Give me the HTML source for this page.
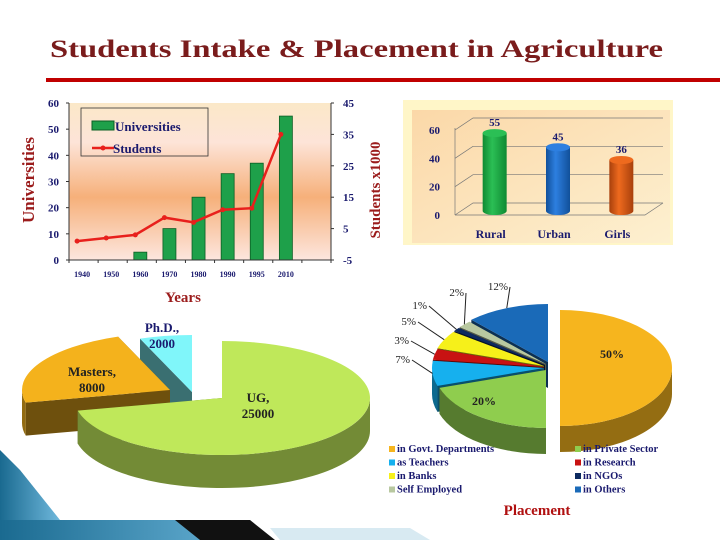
<!DOCTYPE html>
<html><head><meta charset="utf-8">
<style>
html,body{margin:0;padding:0;background:#fff;}
svg{display:block;font-family:"Liberation Serif",serif;}
</style></head>
<body>
<svg id="s" width="720" height="540" viewBox="0 0 720 540">
<defs>
<linearGradient id="bg1" x1="0" y1="0" x2="0" y2="1">
<stop offset="0" stop-color="#fbe8c8"/><stop offset="0.25" stop-color="#fde4d8"/><stop offset="0.6" stop-color="#f6b07a"/><stop offset="1" stop-color="#fde6de"/></linearGradient>
<linearGradient id="bg2" x1="0" y1="0" x2="1" y2="1">
<stop offset="0" stop-color="#fbd8a8"/><stop offset="1" stop-color="#fdf0d0"/></linearGradient>
<linearGradient id="deco" x1="0" y1="0" x2="1" y2="0">
<stop offset="0" stop-color="#1a6a90"/><stop offset="1" stop-color="#6fb8dc"/></linearGradient>
</defs>

<!-- decorations -->
<polygon points="0,450 20,470 60,520 60,540 0,540" fill="url(#deco)"/>
<polygon points="0,520 250,520 270,540 0,540" fill="url(#deco)"/>
<polygon points="175,520 250,520 275,540 200,540" fill="#111"/>
<polygon points="270,528 410,528 430,540 280,540" fill="#d8eaf2"/>

<text x="50" y="57" font-size="25" font-weight="bold" fill="#7a1c1c" textLength="613" lengthAdjust="spacingAndGlyphs">Students Intake &amp; Placement in Agriculture</text>
<rect x="46" y="78" width="674" height="4" fill="#c00000"/>

<g id="c1"></g>
<g id="c2"></g>
<g id="c3"></g>
<g id="c4"></g>
</svg>
<script>
const years = ["1940","1950","1960","1970","1980","1990","1995","2010"];
const universities = [0,0,3,12,24,33,37,55];
const students = [1,2,3,8.5,7,11,11.5,35];
const leftTicks = [0,10,20,30,40,50,60];
const rightTicks = [-5,5,15,25,35,45];

const groups = ["Rural","Urban","Girls"];
const groupValues = [55,45,36];
const groupTicks = [0,20,40,60];

const intakeLabels = ["UG","Masters","Ph.D."];
const intakeValues = [25000,8000,2000];

const placeLabels = ["in Govt. Departments","in Private Sector","as Teachers","in Research","in Banks","in NGOs","Self Employed","in Others"];
const placeValues = [50,20,7,3,5,1,2,12];

const NS="http://www.w3.org/2000/svg";
function mk(tag,attrs,parent,txt){const e=document.createElementNS(NS,tag);for(const k in attrs)e.setAttribute(k,attrs[k]);if(txt!==undefined)e.textContent=txt;parent.appendChild(e);return e;}

// ---------- Chart 1 ----------
(function(){
const g=document.getElementById('c1');
const L=69,R=331,T=103,B=260;
const yL=v=>B-v/60*(B-T);
const yR=v=>B-(v+5)/50*(B-T);
const step=(R-L)/9;
const xC=i=>L+step*(i+0.45);
let e=mk('rect',{x:L,y:T,width:R-L,height:B-T,fill:'url(#bg1)'},g);


universities.forEach((v,i)=>{
 const b=mk('rect',{x:xC(i)-6.5,y:yL(v),width:13,height:B-yL(v),fill:'#1ea04a',stroke:'#0b5e24','stroke-width':0.8},g);
 
 
});
const pts=students.map((v,i)=>[xC(i)-5,yR(v)]);
e=mk('polyline',{points:pts.map(p=>p.join(',')).join(' '),fill:'none',stroke:'#e8201c','stroke-width':2.5},g);


pts.forEach((p,i)=>{
 const c=mk('circle',{cx:p[0],cy:p[1],r:2.5,fill:'#e8201c'},g);
 
 
});
mk('line',{x1:L,y1:T,x2:L,y2:B,stroke:'#333'},g);
mk('line',{x1:R,y1:T,x2:R,y2:B,stroke:'#333'},g);
mk('line',{x1:L,y1:B,x2:R,y2:B,stroke:'#333'},g);
for(let i=0;i<=9;i++) mk('line',{x1:L+step*i,y1:B,x2:L+step*i,y2:B+3,stroke:'#333'},g);
leftTicks.forEach(v=>{
 mk('line',{x1:L-3,y1:yL(v),x2:L,y2:yL(v),stroke:'#333'},g);
 const t=mk('text',{x:L-10,y:yL(v)+4,'text-anchor':'end','font-size':11,'font-weight':'bold',fill:'#1a1a6e'},g,v);
 
 
});
rightTicks.forEach(v=>{
 mk('line',{x1:R,y1:yR(v),x2:R+3,y2:yR(v),stroke:'#333'},g);
 const t=mk('text',{x:R+12,y:yR(v)+4,'font-size':11,'font-weight':'bold',fill:'#1a1a6e'},g,v);
 
 
});
years.forEach((y,i)=>{
 const t=mk('text',{x:xC(i),y:277,'text-anchor':'middle','font-size':8,'font-weight':'bold',fill:'#1a1a6e'},g,y);
 
 
});
let t=mk('text',{x:183,y:302,'text-anchor':'middle','font-size':15,'font-weight':'bold',fill:'#9b1c1c'},g,'Years');


t=mk('text',{transform:'translate(34,180) rotate(-90)','text-anchor':'middle','font-size':17,'font-weight':'bold',fill:'#9b1c1c'},g,'Universities');


t=mk('text',{transform:'translate(380,190) rotate(-90)','text-anchor':'middle','font-size':15,'font-weight':'bold',fill:'#9b1c1c'},g,'Students x1000');


const lg=mk('g',{},g);


mk('rect',{x:81,y:108,width:127,height:48,fill:'none',stroke:'#333','stroke-width':0.8},lg);
mk('rect',{x:92,y:121,width:22,height:9,fill:'#1ea04a',stroke:'#0b5e24'},lg);
mk('text',{x:115,y:131,'font-size':13,'font-weight':'bold',fill:'#1a1a6e'},lg,'Universities');
mk('line',{x1:92,y1:148,x2:114,y2:148,stroke:'#e8201c','stroke-width':2.5},lg);
mk('circle',{cx:103,cy:148,r:2.5,fill:'#e8201c'},lg);
const cp=mk('clipPath',{id:'lgc'},lg);mk('rect',{x:80,y:108,width:130,height:47},cp);
mk('text',{x:113,y:153,'font-size':13,'font-weight':'bold',fill:'#1a1a6e','clip-path':'url(#lgc)'},lg,'Students');
})();

// ---------- Chart 2 ----------
(function(){
const g=document.getElementById('c2');
let e=mk('rect',{x:403,y:100,width:270,height:145,fill:'#fff6c8'},g);
e=mk('rect',{x:412,y:110,width:258,height:133,fill:'url(#bg2)'},g);


const B=215,T=130,x0=455,x1=645,dx=18,dy=-12;
const y=v=>B-v/60*(B-T);
groupTicks.forEach(v=>{
 mk('polyline',{points:`${x0},${y(v)} ${x0+dx},${y(v)+dy} ${x1+dx},${y(v)+dy}`,fill:'none',stroke:'#777','stroke-width':0.7},g);
 const t=mk('text',{x:440,y:y(v)+4,'text-anchor':'end','font-size':11,'font-weight':'bold',fill:'#1a1a6e'},g,v);
 
 
});
mk('line',{x1:x0,y1:B,x2:x0,y2:T-2,stroke:'#777','stroke-width':0.7},g);
mk('polyline',{points:`${x0},${B} ${x1},${B} ${x1+dx},${B+dy}`,fill:'none',stroke:'#777','stroke-width':0.7},g);
const cols=[['#2bbf55','#0f8a32'],['#2d7fe0','#11509a'],['#ee6a1e','#a8400c']];
const slot=(x1-x0)/3;
groupValues.forEach((v,i)=>{
 const cx=x0+slot*(i+0.5)+8, w=24, ty=y(v)-4, by=B-4;
 const grd=mk('linearGradient',{id:'cg'+i,x1:0,y1:0,x2:1,y2:0},g);
 mk('stop',{offset:0,'stop-color':cols[i][1]},grd);mk('stop',{offset:0.4,'stop-color':cols[i][0]},grd);mk('stop',{offset:1,'stop-color':cols[i][1]},grd);
 const b=mk('path',{d:`M${cx-w/2},${ty} L${cx-w/2},${by} A${w/2},4 0 0 0 ${cx+w/2},${by} L${cx+w/2},${ty} Z`,fill:`url(#cg${i})`},g);
 
 
 mk('ellipse',{cx:cx,cy:ty,rx:w/2,ry:4,fill:cols[i][0]},g);
 let t=mk('text',{x:cx,y:ty-7,'text-anchor':'middle','font-size':11,'font-weight':'bold',fill:'#1a1a6e'},g,v);
 
 
 t=mk('text',{x:cx-4,y:238,'text-anchor':'middle','font-size':12,'font-weight':'bold',fill:'#1a1a6e'},g,groups[i]);
 
 
});
})();

// ---------- 3D pie helper ----------
function shade(hex,f){const n=parseInt(hex.slice(1),16);const r=Math.round((n>>16)*f),gg=Math.round(((n>>8)&255)*f),b=Math.round((n&255)*f);return `rgb(${r},${gg},${b})`;}
function pie3d(g,vals,names,colors,cx,cy,rx,ry,depth,start,offsets){
 const tot=vals.reduce((a,b)=>a+b,0);
 let a=start;const sl=[];
 vals.forEach((v,i)=>{const a2=a+v/tot*2*Math.PI;sl.push({a1:a,a2:a2,i:i});a=a2;});
 const P=(x,y,t,d)=>[x+rx*Math.cos(t),y+ry*Math.sin(t)+(d||0)];
 sl.forEach(s=>{const o=offsets[s.i];s.x=cx+o[0];s.y=cy+o[1];s.mid=(s.a1+s.a2)/2;});
 // sides & radial faces
 const order=sl.slice().sort((p,q)=>Math.sin(p.mid)-Math.sin(q.mid));
 order.forEach(s=>{
  const col=colors[s.i],dk=shade(col,0.6);
  [s.a1,s.a2].forEach(t=>{const p=P(s.x,s.y,t);mk('polygon',{points:`${s.x},${s.y} ${p[0]},${p[1]} ${p[0]},${p[1]+depth} ${s.x},${s.y+depth}`,fill:shade(col,0.45)},g);});
  // outer wall: visible where sin>0
  let b1=s.a1,b2=s.a2;
  for(let k=-1;k<=1;k++){
   const lo=Math.max(b1,k*2*Math.PI),hi=Math.min(b2,k*2*Math.PI+Math.PI);
   if(hi>lo){const p1=P(s.x,s.y,lo),p2=P(s.x,s.y,hi);
    mk('path',{d:`M${p1[0]},${p1[1]} A${rx},${ry} 0 0 1 ${p2[0]},${p2[1]} L${p2[0]},${p2[1]+depth} A${rx},${ry} 0 0 0 ${p1[0]},${p1[1]+depth} Z`,fill:dk},g);}
  }
 });
 sl.forEach(s=>{
  const p1=P(s.x,s.y,s.a1),p2=P(s.x,s.y,s.a2);const large=(s.a2-s.a1)>Math.PI?1:0;
  const e=mk('path',{d:`M${s.x},${s.y} L${p1[0]},${p1[1]} A${rx},${ry} 0 ${large} 1 ${p2[0]},${p2[1]} Z`,fill:colors[s.i]},g);
  
  
 });
 return sl;
}

// ---------- Chart 3 ----------
(function(){
const g=document.getElementById('c3');
const cols=['#bfe85a','#f4b21c','#80f6fa'];
const sl=pie3d(g,intakeValues,intakeLabels,cols,222,398,148,57,33,-Math.PI/2,[[0,0],[-52,-8],[-30,-6]]);
const lab=[[258,402,'UG,',String(intakeValues[0])],[92,376,'Masters,',String(intakeValues[1])],[162,332,'Ph.D.,',String(intakeValues[2])]];
lab.forEach((l,i)=>{
 let t=mk('text',{x:l[0],y:l[1],'text-anchor':'middle','font-size':13,'font-weight':'bold',fill:i==2?'#1a1a6e':'#222'},g,l[2]);
 
 
 t=mk('text',{x:l[0],y:l[1]+16,'text-anchor':'middle','font-size':13,'font-weight':'bold',fill:i==2?'#1a1a6e':'#222'},g,l[3]);
 
 
});
})();

// ---------- Chart 4 ----------
(function(){
const g=document.getElementById('c4');
const cols=['#f6b51e','#8fcd4e','#16b0ee','#c81212','#f6f01a','#0d2a60','#b8c8a0','#1a6ab8'];
const offs=[[8,0],[-6,2],[-8,0],[-8,-1],[-8,-2],[-7,-3],[-6,-4],[-4,-6]];
const sl=pie3d(g,placeValues,placeLabels,cols,552,368,112,58,26,-Math.PI/2,offs);
let t=mk('text',{x:612,y:358,'text-anchor':'middle','font-size':12,'font-weight':'bold',fill:'#222'},g,placeValues[0]+'%');

t=mk('text',{x:484,y:405,'text-anchor':'middle','font-size':12,'font-weight':'bold',fill:'#222'},g,placeValues[1]+'%');

const outer=[[2,400,363],[3,399,344],[4,406,325],[5,417,309],[6,454,296],[7,498,290]];
outer.forEach(o=>{
 const s=sl[o[0]];const px=s.x+112*Math.cos(s.mid),py=s.y+58*Math.sin(s.mid);
 mk('line',{x1:o[1]+12,y1:o[2]-3,x2:px,y2:py,stroke:'#222','stroke-width':1},g);
 const tt=mk('text',{x:o[1]+10,y:o[2],'text-anchor':'end','font-size':11,fill:'#222'},g,placeValues[o[0]]+'%');
 
 
});
placeLabels.forEach((l,i)=>{
 const x=i%2?575:389,y=452+Math.floor(i/2)*13.5;
 const lg=mk('g',{},g);
 
 
 mk('rect',{x:x,y:y-6,width:6,height:6,fill:cols[i]},lg);
 mk('text',{x:x+8,y:y,'font-size':10.5,'font-weight':'bold',fill:'#1a1a6e'},lg,l);
});
t=mk('text',{x:537,y:515,'text-anchor':'middle','font-size':15,'font-weight':'bold',fill:'#b01010'},g,'Placement');

})();
</script>
</body></html>
